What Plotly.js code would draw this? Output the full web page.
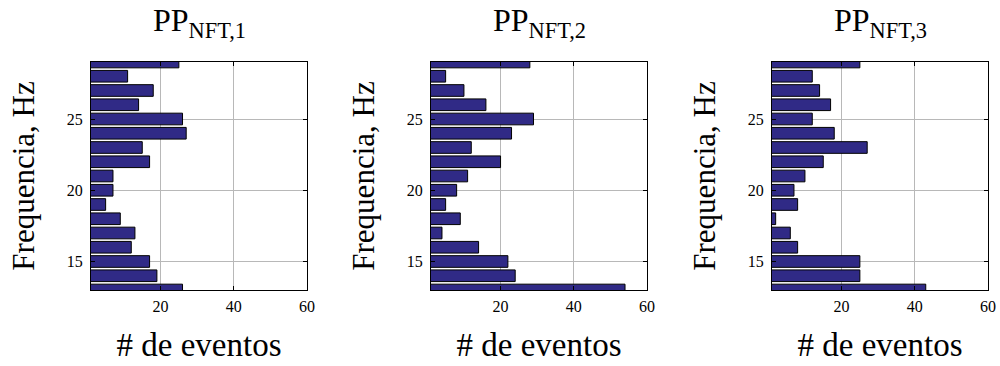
<!DOCTYPE html>
<html>
<head>
<meta charset="utf-8">
<script src="https://cdn.plot.ly/plotly-3.0.1.min.js"></script>
<style>
  html, body { margin: 0; padding: 0; background: #fff; }
  #chart { width: 1000px; height: 366px; }
</style>
</head>
<body>
<div id="chart"></div>
<script>
// Frequency bins (Hz), shared by all three panels
const frequencies = [13, 14, 15, 16, 17, 18, 19, 20, 21, 22, 23, 24, 25, 26, 27, 28, 29];

// Event counts per frequency bin for each NFT pilot
const eventsNFT1 = [26, 19, 17, 12, 13, 9, 5, 7, 7, 17, 15, 27, 26, 14, 18, 11, 25];
const eventsNFT2 = [54, 24, 22, 14, 4, 9, 5, 8, 11, 20, 12, 23, 29, 16, 10, 5, 28];
const eventsNFT3 = [43, 25, 25, 8, 6, 2, 8, 7, 10, 15, 27, 18, 12, 17, 14, 12, 25];

const panelTitles = ['PP<sub>NFT,1</sub>', 'PP<sub>NFT,2</sub>', 'PP<sub>NFT,3</sub>'];
const xTickValues = [20, 40, 60];
const yTickValues = [15, 20, 25];
const xAxisLabel = '# de eventos';
const yAxisLabel = 'Frequencia, Hz';

const series = [eventsNFT1, eventsNFT2, eventsNFT3];
const serif = 'Liberation Serif, DejaVu Serif, serif';
const W = 1000, H = 366;
const xDomainsPx = [[91, 307], [431, 647], [772, 988]];
const yDomain = [(H - 290) / H, (H - 62) / H];

const data = series.map((vals, i) => ({
  type: 'bar',
  orientation: 'h',
  y: frequencies,
  x: vals,
  width: 0.82,
  marker: { color: '#302a86', line: { color: '#000', width: 1 } },
  xaxis: i === 0 ? 'x' : 'x' + (i + 1),
  yaxis: i === 0 ? 'y' : 'y' + (i + 1),
  hoverinfo: 'x+y'
}));

const layout = {
  width: W, height: H,
  margin: { l: 0, r: 0, t: 0, b: 0 },
  paper_bgcolor: '#fff',
  plot_bgcolor: '#fff',
  showlegend: false,
  font: { family: serif, color: '#000' },
  annotations: []
};

xDomainsPx.forEach((d, i) => {
  const sx = i === 0 ? '' : String(i + 1);
  layout['xaxis' + sx] = {
    domain: [d[0] / W, d[1] / W],
    range: [1, 60],
    tickvals: xTickValues,
    ticks: 'inside', ticklen: 4, tickcolor: '#000',
    showline: true, linecolor: '#000', linewidth: 1, mirror: 'ticks',
    showgrid: true, gridcolor: '#b8b8b8', gridwidth: 1,
    zeroline: false,
    tickfont: { family: serif, size: 16, color: '#000' },
    ticklabelstandoff: 2,
    anchor: 'y' + sx,
    title: { text: xAxisLabel, font: { family: serif, size: 33, color: '#000' }, standoff: 18 }
  };
  layout['yaxis' + sx] = {
    domain: yDomain,
    range: [13, 29],
    tickvals: yTickValues,
    ticks: 'inside', ticklen: 4, tickcolor: '#000',
    showline: true, linecolor: '#000', linewidth: 1, mirror: 'ticks',
    showgrid: true, gridcolor: '#b8b8b8', gridwidth: 1,
    zeroline: false,
    tickfont: { family: serif, size: 16, color: '#000' },
    ticklabelstandoff: 4,
    anchor: 'x' + sx,
    title: { text: yAxisLabel, font: { family: serif, size: 31, color: '#000' }, standoff: 22 }
  };
  layout.annotations.push({
    text: panelTitles[i],
    xref: 'paper', yref: 'paper',
    x: (d[0] + d[1]) / 2 / W, y: 1,
    xanchor: 'center', yanchor: 'top',
    showarrow: false,
    font: { family: serif, size: 32, color: '#000' }
  });
});

Plotly.newPlot('chart', data, layout, { displayModeBar: false, staticPlot: true });
</script>
</body>
</html>
